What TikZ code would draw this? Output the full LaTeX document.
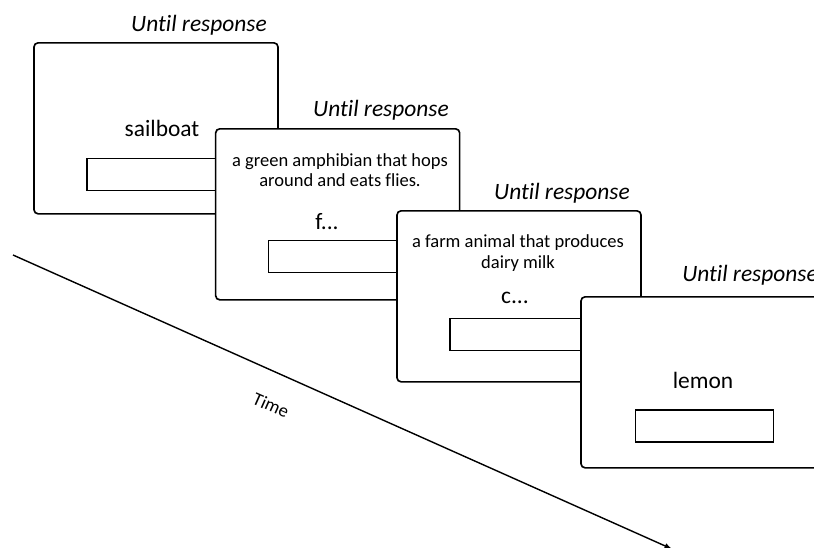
\documentclass[tikz,border=0pt]{standalone}
\usepackage{fontspec}
\setmainfont{Carlito}[Ligatures=NoCommon]
\tikzstyle{card_element}=[rectangle,
                            minimum height=5.13cm,
                            minimum width=7.32cm,
                            draw=black,
                            fill=white,
                            line width=1.4pt,
                            rounded corners=3.5, ]
\tikzstyle{box_element}=[rectangle,
                           minimum height=0.96cm,
                           minimum width=4.14cm,
                           draw=black,
                           line width=1.4pt, ]
\tikzstyle{title_text}=[font=\fontsize{20}{24}\selectfont\itshape]
\tikzstyle{word_text}=[font=\fontsize{20}{24}\selectfont]
\tikzstyle{clue_text}=[font=\fontsize{15.8}{17.5}\selectfont, align=center]

\begin{document}
\begin{tikzpicture}
    \useasboundingbox (0cm, 0cm) rectangle (24.42cm, 16.41cm);
    \clip (0cm, 0cm) rectangle (24.42cm, 16.41cm);
    % ---------------------------------------------------------------------------------------------------------
    %  Tijdlijn
    \coordinate (time-l) at (0.39cm, 8.76cm);
    \coordinate (time-r) at (20.16cm, -0.06cm);
    \draw[-latex, line width=1.2pt] (time-l) -- (time-r);
    \node at (8.13cm, 4.25cm) (TimeLabel) [rotate=-24, clue_text] {Time};

    % ---------------------------------------------------------------------------------------------------------
    %  Scherm 1
    \node at (5.97cm, 15.66cm) (Title0) [title_text] {Until response};
    \node at (4.68cm, 12.56cm) (Card0) [card_element] {};
    \node at (4.86cm, 12.57cm) (Word0) [word_text] {sailboat};
    \node at (4.68cm, 11.18cm) (Box0) [box_element] {};

    % ---------------------------------------------------------------------------------------------------------
    %  Scherm 2
    \node at (11.43cm, 13.11cm) (Title1) [title_text] {Until response};
    \node at (10.13cm, 9.98cm) (Card1) [card_element] {};
    \node at (10.2cm, 11.31cm) (Clue1) [clue_text] {a green amphibian that hops\\around and eats flies.};
    \node at (9.81cm, 9.75cm) (Word1) [word_text] {f...};
    \node at (10.13cm, 8.72cm) (Box1) [box_element] {};

    % ---------------------------------------------------------------------------------------------------------
    %  Scherm 3
    \node at (16.86cm, 10.62cm) (Title2) [title_text] {Until response};
    \node at (15.57cm, 7.52cm) (Card2) [card_element] {};
    \node at (15.54cm, 8.82cm) (Clue2) [clue_text] {a farm animal that produces\\dairy milk};
    \node at (15.45cm, 7.47cm) (Word2) [word_text] {c...};
    \node at (15.57cm, 6.38cm) (Box2) [box_element] {};

    % ---------------------------------------------------------------------------------------------------------
    %  Scherm 4
    \node at (22.5cm, 8.16cm) (Title3) [title_text] {Until response};
    \node at (21.09cm, 4.94cm) (Card3) [card_element] {};
    \node at (21.09cm, 5.01cm) (Word3) [word_text] {lemon};
    \node at (21.13cm, 3.63cm) (Box3) [box_element] {};
\end{tikzpicture}
\end{document}
